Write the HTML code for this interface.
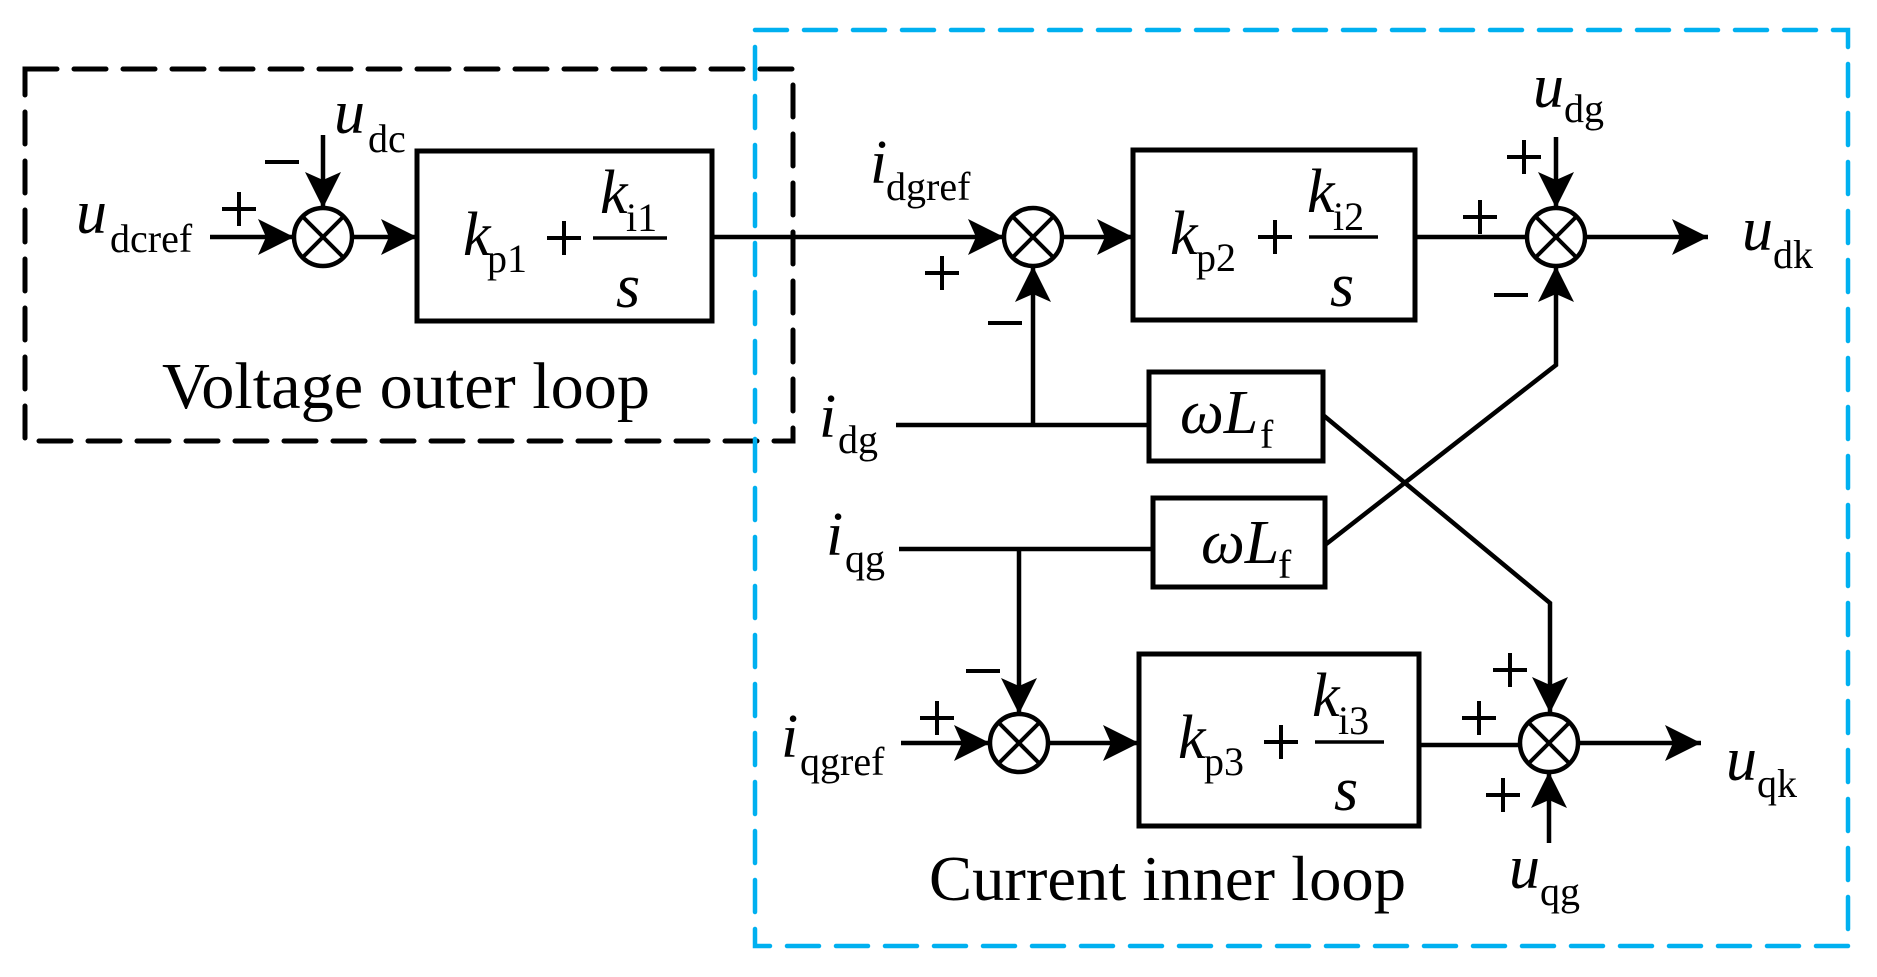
<!DOCTYPE html>
<html><head><meta charset="utf-8"><style>
html,body{margin:0;padding:0;background:#fff;}
svg{display:block;}
text{font-family:"Liberation Serif",serif;fill:#000;}
.v{font-style:italic;font-size:62px;}
.s{font-size:40px;font-style:normal;}
</style></head><body>
<svg width="1877" height="977" viewBox="0 0 1877 977" xmlns="http://www.w3.org/2000/svg">
<defs>
<marker id="a" markerUnits="userSpaceOnUse" markerWidth="40" markerHeight="40" refX="36" refY="18" orient="auto">
<path d="M0,0 L36,18 L0,36 L8,18 Z" fill="#000"/>
</marker>
<g id="sum"><circle cx="0" cy="0" r="29" fill="#fff" stroke="#000" stroke-width="4.5"/>
<line x1="-20" y1="-20" x2="20" y2="20" stroke="#000" stroke-width="4"/>
<line x1="-20" y1="20" x2="20" y2="-20" stroke="#000" stroke-width="4"/></g>
<g id="plus"><line x1="-17" y1="0" x2="17" y2="0" stroke="#000" stroke-width="4"/><line x1="0" y1="-17" x2="0" y2="17" stroke="#000" stroke-width="4"/></g>
<g id="minus"><line x1="-17" y1="0" x2="17" y2="0" stroke="#000" stroke-width="4"/></g>
</defs>

<!-- dashed boxes -->
<rect x="25" y="69" width="768" height="372" fill="none" stroke="#000" stroke-width="5" stroke-dasharray="32 17" stroke-linecap="round"/>
<rect x="755" y="30" width="1093" height="916" fill="none" stroke="#00b0f0" stroke-width="4.5" stroke-dasharray="32 17" stroke-linecap="round"/>

<g stroke="#000" stroke-width="4.5" fill="none">
<!-- top row -->
<line x1="210" y1="237" x2="294" y2="237" marker-end="url(#a)"/>
<line x1="323" y1="135" x2="323" y2="208" marker-end="url(#a)"/>
<line x1="352" y1="237" x2="417" y2="237" marker-end="url(#a)"/>
<line x1="712" y1="237" x2="1004" y2="237" marker-end="url(#a)"/>
<line x1="1062" y1="237" x2="1133" y2="237" marker-end="url(#a)"/>
<line x1="1415" y1="237" x2="1527" y2="237"/>
<line x1="1585" y1="237" x2="1708" y2="237" marker-end="url(#a)"/>
<line x1="1556" y1="137" x2="1556" y2="208" marker-end="url(#a)"/>
<polyline points="1325,545 1556,365 1556,266" marker-end="url(#a)"/>
<!-- idg -->
<line x1="896" y1="425" x2="1149" y2="425"/>
<line x1="1033" y1="425" x2="1033" y2="266" marker-end="url(#a)"/>
<polyline points="1323,415 1550,603 1550,713" marker-end="url(#a)"/>
<!-- iqg -->
<line x1="899" y1="549" x2="1153" y2="549"/>
<line x1="1019" y1="549" x2="1019" y2="714" marker-end="url(#a)"/>
<!-- bottom row -->
<line x1="901" y1="743" x2="990" y2="743" marker-end="url(#a)"/>
<line x1="1048" y1="743" x2="1139" y2="743" marker-end="url(#a)"/>
<line x1="1419" y1="745" x2="1520" y2="745"/>
<line x1="1579" y1="743" x2="1701" y2="743" marker-end="url(#a)"/>
<line x1="1549" y1="843" x2="1549" y2="772" marker-end="url(#a)"/>
<!-- boxes -->
<rect x="417" y="151" width="295" height="170" stroke-width="5"/>
<rect x="1133" y="150" width="282" height="170" stroke-width="5"/>
<rect x="1139" y="654" width="280" height="172" stroke-width="5"/>
<rect x="1149" y="372" width="174" height="89" stroke-width="5"/>
<rect x="1153" y="498" width="172" height="89" stroke-width="5"/>
<!-- fraction lines -->
<line x1="593" y1="238" x2="667" y2="238" stroke-width="3.5"/>
<line x1="1309" y1="237" x2="1378" y2="237" stroke-width="3.5"/>
<line x1="1315" y1="742" x2="1384" y2="742" stroke-width="3.5"/>
</g>

<use href="#sum" x="323" y="237"/>
<use href="#sum" x="1033" y="237"/>
<use href="#sum" x="1556" y="237"/>
<use href="#sum" x="1019" y="743"/>
<use href="#sum" x="1549" y="743"/>

<!-- signs -->
<use href="#plus" x="239" y="209"/>
<use href="#minus" x="282" y="162"/>
<use href="#plus" x="942" y="273"/>
<use href="#minus" x="1005" y="323"/>
<use href="#plus" x="1524" y="157"/>
<use href="#plus" x="1480" y="217"/>
<use href="#minus" x="1511" y="295"/>
<use href="#plus" x="937" y="718"/>
<use href="#minus" x="983" y="671"/>
<use href="#plus" x="1479" y="718"/>
<use href="#plus" x="1510" y="670"/>
<use href="#plus" x="1503" y="795"/>
<use href="#plus" x="564" y="238"/>
<use href="#plus" x="1275" y="237"/>
<use href="#plus" x="1281" y="742"/>

<!-- box 1 text -->
<text class="v" x="463" y="255">k</text><text class="s" x="487" y="272">p1</text>
<text class="v" x="600" y="213">k</text><text class="s" x="626" y="231">i1</text>
<text class="v" x="616" y="307">s</text>
<!-- box 2 -->
<text class="v" x="1170" y="254">k</text><text class="s" x="1196" y="271">p2</text>
<text class="v" x="1307" y="212">k</text><text class="s" x="1333" y="230">i2</text>
<text class="v" x="1330" y="306">s</text>
<!-- box 3 -->
<text class="v" x="1178" y="758">k</text><text class="s" x="1204" y="775">p3</text>
<text class="v" x="1312" y="716">k</text><text class="s" x="1338" y="734">i3</text>
<text class="v" x="1334" y="810">s</text>
<!-- wLf -->
<text class="v" x="1180" y="433">ωL</text><text class="s" x="1260" y="448">f</text>
<text class="v" x="1201" y="563">ωL</text><text class="s" x="1278" y="578">f</text>

<!-- signal labels -->
<text class="v" x="76" y="233">u</text><text class="s" x="110" y="252">dcref</text>
<text class="v" x="334" y="133">u</text><text class="s" x="368" y="152">dc</text>
<text class="v" x="870" y="183">i</text><text class="s" x="886" y="200">dgref</text>
<text class="v" x="819" y="437">i</text><text class="s" x="838" y="453">dg</text>
<text class="v" x="826" y="555">i</text><text class="s" x="845" y="572">qg</text>
<text class="v" x="781" y="757">i</text><text class="s" x="800" y="775">qgref</text>
<text class="v" x="1533" y="107">u</text><text class="s" x="1564" y="122">dg</text>
<text class="v" x="1742" y="250">u</text><text class="s" x="1773" y="268">dk</text>
<text class="v" x="1726" y="780">u</text><text class="s" x="1757" y="797">qk</text>
<text class="v" x="1509" y="888">u</text><text class="s" x="1540" y="905">qg</text>

<text x="162" y="408" font-size="66" textLength="488" lengthAdjust="spacingAndGlyphs">Voltage outer loop</text>
<text x="929" y="900" font-size="64" textLength="477" lengthAdjust="spacingAndGlyphs">Current inner loop</text>
</svg>
</body></html>
